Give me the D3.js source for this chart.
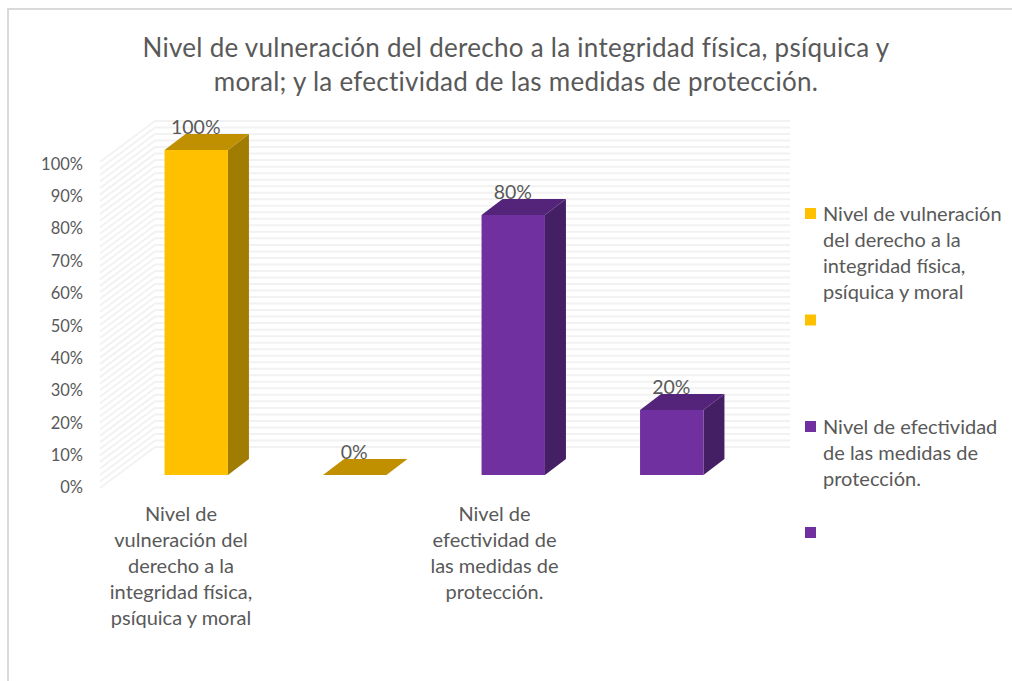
<!DOCTYPE html>
<html>
<head>
<meta charset="utf-8">
<script src="https://cdn.jsdelivr.net/npm/d3@7.9.0/dist/d3.min.js"></script>
<style>
  html, body { margin: 0; padding: 0; background: #fff; }
  svg { display: block; }
  text { font-family: Lato, "Open Sans", sans-serif; fill: #595959; }
</style>
</head>
<body>
<div id="chart"></div>
<script>
const titleLines = [
  'Nivel de vulneración del derecho a la integridad física, psíquica y',
  'moral; y la efectividad de las medidas de protección.'
];
const barIds = ['a', 'b', 'c', 'd'];
const barValues = [1, 0, 0.8, 0.2];
const barGroups = ['vuln', 'vuln', 'efec', 'efec'];
const tickValues = [0, 0.1, 0.2, 0.3, 0.4, 0.5, 0.6, 0.7, 0.8, 0.9, 1];
const categoryLabels = [
  ['Nivel de', 'vulneración del', 'derecho a la', 'integridad física,', 'psíquica y moral'],
  ['Nivel de', 'efectividad de', 'las medidas de', 'protección.']
];
const legendEntries = [
  { group: 'vuln', lines: ['Nivel de vulneración', 'del derecho a la', 'integridad física,', 'psíquica y moral'] },
  { group: 'vuln', lines: [] },
  { group: 'efec', lines: ['Nivel de efectividad', 'de las medidas de', 'protección.'] },
  { group: 'efec', lines: [] }
];
const colors = {
  vuln: { front: '#FFC000', top: '#C09000', side: '#A07C00' },
  efec: { front: '#7030A0', top: '#54247A', side: '#451F63' }
};

const width = 1012;
const height = 681;

const svg = d3.select('#chart').append('svg')
  .attr('width', width)
  .attr('height', height);

// frame, runs off the right and bottom of the screenshot
svg.append('rect')
  .attr('x', 8).attr('y', 9)
  .attr('width', width + 20).attr('height', height + 20)
  .attr('fill', 'none')
  .attr('stroke', '#d9d9d9')
  .attr('stroke-width', 2);

svg.append('g').selectAll('text')
  .data(titleLines)
  .join('text')
  .attr('x', 516)
  .attr('y', (d, i) => 57 + i * 34)
  .attr('text-anchor', 'middle')
  .attr('font-size', 26)
  .attr('letter-spacing', 0.27)
  .text(d => d);

const yBar = d3.scaleLinear().domain([0, 1]).range([475, 150]);
const yFront = d3.scaleLinear().domain([0, 1]).range([488, 162]);
const yBack = d3.scaleLinear().domain([0, 1]).range([447, 121]);
const yTick = d3.scaleLinear().domain([0, 1]).range([487.5, 164]);
const x = d3.scaleBand().domain(barIds).range([117, 751]).paddingInner(0.6).paddingOuter(0.3);
const depthX = 21;
const depthY = -16;

// walls, minor gridlines every 2%
const gridTicks = d3.range(0, 51).map(d => d / 50);
const grid = svg.append('g').attr('fill', 'none').attr('stroke', '#f2f2f2').attr('stroke-width', 2);
grid.selectAll('path')
  .data(gridTicks)
  .join('path')
  .attr('d', d => `M100,${yFront(d)}L155,${yBack(d)}L790,${yBack(d)}`);

// bars
const bars = svg.append('g').selectAll('g')
  .data(barIds)
  .join('g');

bars.each(function(id, i) {
  const g = d3.select(this);
  const c = colors[barGroups[i]];
  const x0 = x(id);
  const x1 = x0 + x.bandwidth();
  const y0 = yBar(0);
  const y1 = yBar(barValues[i]);
  if (barValues[i] > 0) {
    g.append('path')
      .attr('d', `M${x1},${y0}L${x1 + depthX},${y0 + depthY}L${x1 + depthX},${y1 + depthY}L${x1},${y1}Z`)
      .attr('fill', c.side);
    g.append('rect')
      .attr('x', x0).attr('y', y1)
      .attr('width', x.bandwidth()).attr('height', y0 - y1)
      .attr('fill', c.front);
  }
  g.append('path')
    .attr('d', `M${x0},${y1}L${x0 + depthX},${y1 + depthY}L${x1 + depthX},${y1 + depthY}L${x1},${y1}Z`)
    .attr('fill', c.top);
});

// data labels
svg.append('g').selectAll('text')
  .data(barIds)
  .join('text')
  .attr('x', d => x(d) + x.bandwidth() / 2 - 0.5)
  .attr('y', (d, i) => yBar(barValues[i]) - 16)
  .attr('text-anchor', 'middle')
  .attr('font-size', 19.5)
  .text((d, i) => d3.format('.0%')(barValues[i]));

// y axis
const yAxis = d3.axisLeft(yTick)
  .tickValues(tickValues)
  .tickFormat(d3.format('.0%'))
  .tickSize(0)
  .tickPadding(0);
const axisG = svg.append('g')
  .attr('transform', 'translate(83,0)')
  .call(yAxis);
axisG.select('.domain').remove();
axisG.selectAll('text')
  .attr('font-size', 16.5)
  .style('font-family', 'Lato, "Open Sans", sans-serif')
  .style('fill', '#595959');

// category labels
const catCenters = [181, 494.5];
svg.append('g').selectAll('text')
  .data(categoryLabels.flatMap((lines, i) => lines.map((t, j) => ({ t, j, i }))))
  .join('text')
  .attr('x', d => catCenters[d.i])
  .attr('y', d => 521 + d.j * 26)
  .attr('text-anchor', 'middle')
  .attr('font-size', 20)
  .text(d => d.t);

// legend
const legendY = [213.5, 320, 426.5, 532.5];
const legend = svg.append('g').selectAll('g')
  .data(legendEntries)
  .join('g')
  .attr('transform', (d, i) => `translate(805,${legendY[i]})`);
legend.append('rect')
  .attr('y', -5.5)
  .attr('width', 11).attr('height', 11)
  .attr('fill', d => colors[d.group].front);
legend.selectAll('text')
  .data(d => d.lines)
  .join('text')
  .attr('x', 18)
  .attr('y', (d, i) => 7 + i * 26)
  .attr('font-size', 20)
  .text(d => d);
</script>
</body>
</html>
